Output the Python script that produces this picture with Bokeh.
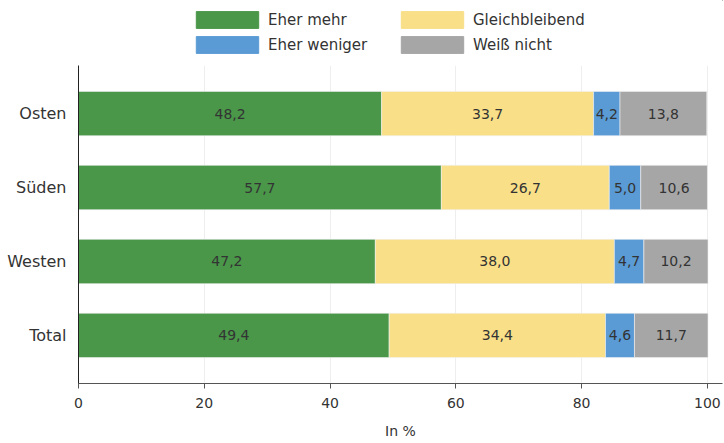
from bokeh.plotting import figure
from bokeh.models import ColumnDataSource, FactorRange, Range1d, Legend, LegendItem, LabelSet
from bokeh.layouts import column
from bokeh.core.properties import value
from bokeh.embed import file_html
from bokeh.resources import INLINE

regions = ["Total", "Westen", "Süden", "Osten"]
series = ["Eher mehr", "Gleichbleibend", "Eher weniger", "Weiß nicht"]
eher_mehr = [49.4, 47.2, 57.7, 48.2]
gleichbleibend = [34.4, 38.0, 26.7, 33.7]
eher_weniger = [4.6, 4.7, 5.0, 4.2]
weiss_nicht = [11.7, 10.2, 10.6, 13.8]
colors = ["#4a974a", "#f8df88", "#5a9bd5", "#a6a6a6"]
x_ticks = [0, 20, 40, 60, 80, 100]

FONT = "DejaVu Sans"
TXT = "#333333"

values = [eher_mehr, gleichbleibend, eher_weniger, weiss_nicht]
data = {"region": regions}
for s, v in zip(series, values):
    data[s] = v
src = ColumnDataSource(data)

# ---- legend strip ----
lg = figure(width=724, height=60, output_backend="svg", toolbar_location=None,
            x_axis_type=None, y_axis_type=None, x_range=Range1d(0, 1), y_range=Range1d(0, 1),
            min_border=0)
lg.outline_line_color = None
lg.xgrid.grid_line_color = None
lg.ygrid.grid_line_color = None
dummy = []
for s, c in zip(series, colors):
    # swatch-only renderers, placed outside the visible range
    dummy.append(lg.hbar(y=[10], left=[10], right=[11], height=0.5, color=c, line_color=c))
items = [LegendItem(label=s, renderers=[r]) for s, r in zip(series, dummy)]
legend = Legend(items=items, orientation="horizontal", ncols=2, location=(110, 5),
                glyph_width=78, glyph_height=21, label_height=21, label_width=121,
                label_standoff=2, spacing=4, padding=3, margin=0,
                label_text_font=FONT, label_text_font_size="15px", label_text_color=TXT,
                border_line_color=None, background_fill_alpha=0)
lg.add_layout(legend, "center")

# ---- main chart ----
p = figure(width=724, height=383, output_backend="svg", toolbar_location=None,
           y_range=FactorRange(*regions, range_padding=0.15, range_padding_units="absolute"),
           x_range=Range1d(0, 102.4))
p.min_border_left = 78
p.min_border_right = 2
p.min_border_top = 5
p.min_border_bottom = 60
p.outline_line_color = None

p.hbar_stack(series, y="region", height=0.6, color=colors, source=src,
             line_color="#f2f2f2", line_width=0.6)

left = [0.0] * len(regions)
for s, v in zip(series, values):
    centers = [l + x / 2 for l, x in zip(left, v)]
    texts = [f"{x:.1f}".replace(".", ",") for x in v]
    lsrc = ColumnDataSource(dict(x=centers, y=regions, t=texts))
    ls = LabelSet(x="x", y="y", text="t", source=lsrc, text_align="center",
                  text_baseline="middle", text_font=value(FONT), text_font_size=value("14px"),
                  text_color=value(TXT))
    p.add_layout(ls)
    left = [l + x for l, x in zip(left, v)]

p.xaxis.ticker = x_ticks
p.xaxis.axis_label = "In %"
p.xaxis.axis_label_text_font = FONT
p.xaxis.axis_label_text_font_style = "normal"
p.xaxis.axis_label_text_font_size = "14px"
p.xaxis.axis_label_text_color = TXT
p.xaxis.axis_label_standoff = 12
p.xaxis.major_label_text_font = FONT
p.xaxis.major_label_text_font_size = "14px"
p.xaxis.major_label_text_color = TXT
p.xaxis.major_label_standoff = 9
p.xaxis.major_tick_out = 5
p.xaxis.major_tick_in = 0
p.xaxis.minor_tick_line_color = None
p.xaxis.axis_line_color = "#555555"
p.xaxis.major_tick_line_color = "#555555"

p.yaxis.major_label_text_font = FONT
p.yaxis.major_label_text_font_size = "16px"
p.yaxis.major_label_text_color = TXT
p.yaxis.major_tick_line_color = None
p.yaxis.minor_tick_line_color = None
p.yaxis.major_label_standoff = 6
p.yaxis.axis_line_color = "#222222"

p.ygrid.grid_line_color = None
p.xgrid.grid_line_color = "#eeeeee"

layout = column(lg, p, spacing=0)
open("out.html", "w").write(file_html(layout, INLINE))
